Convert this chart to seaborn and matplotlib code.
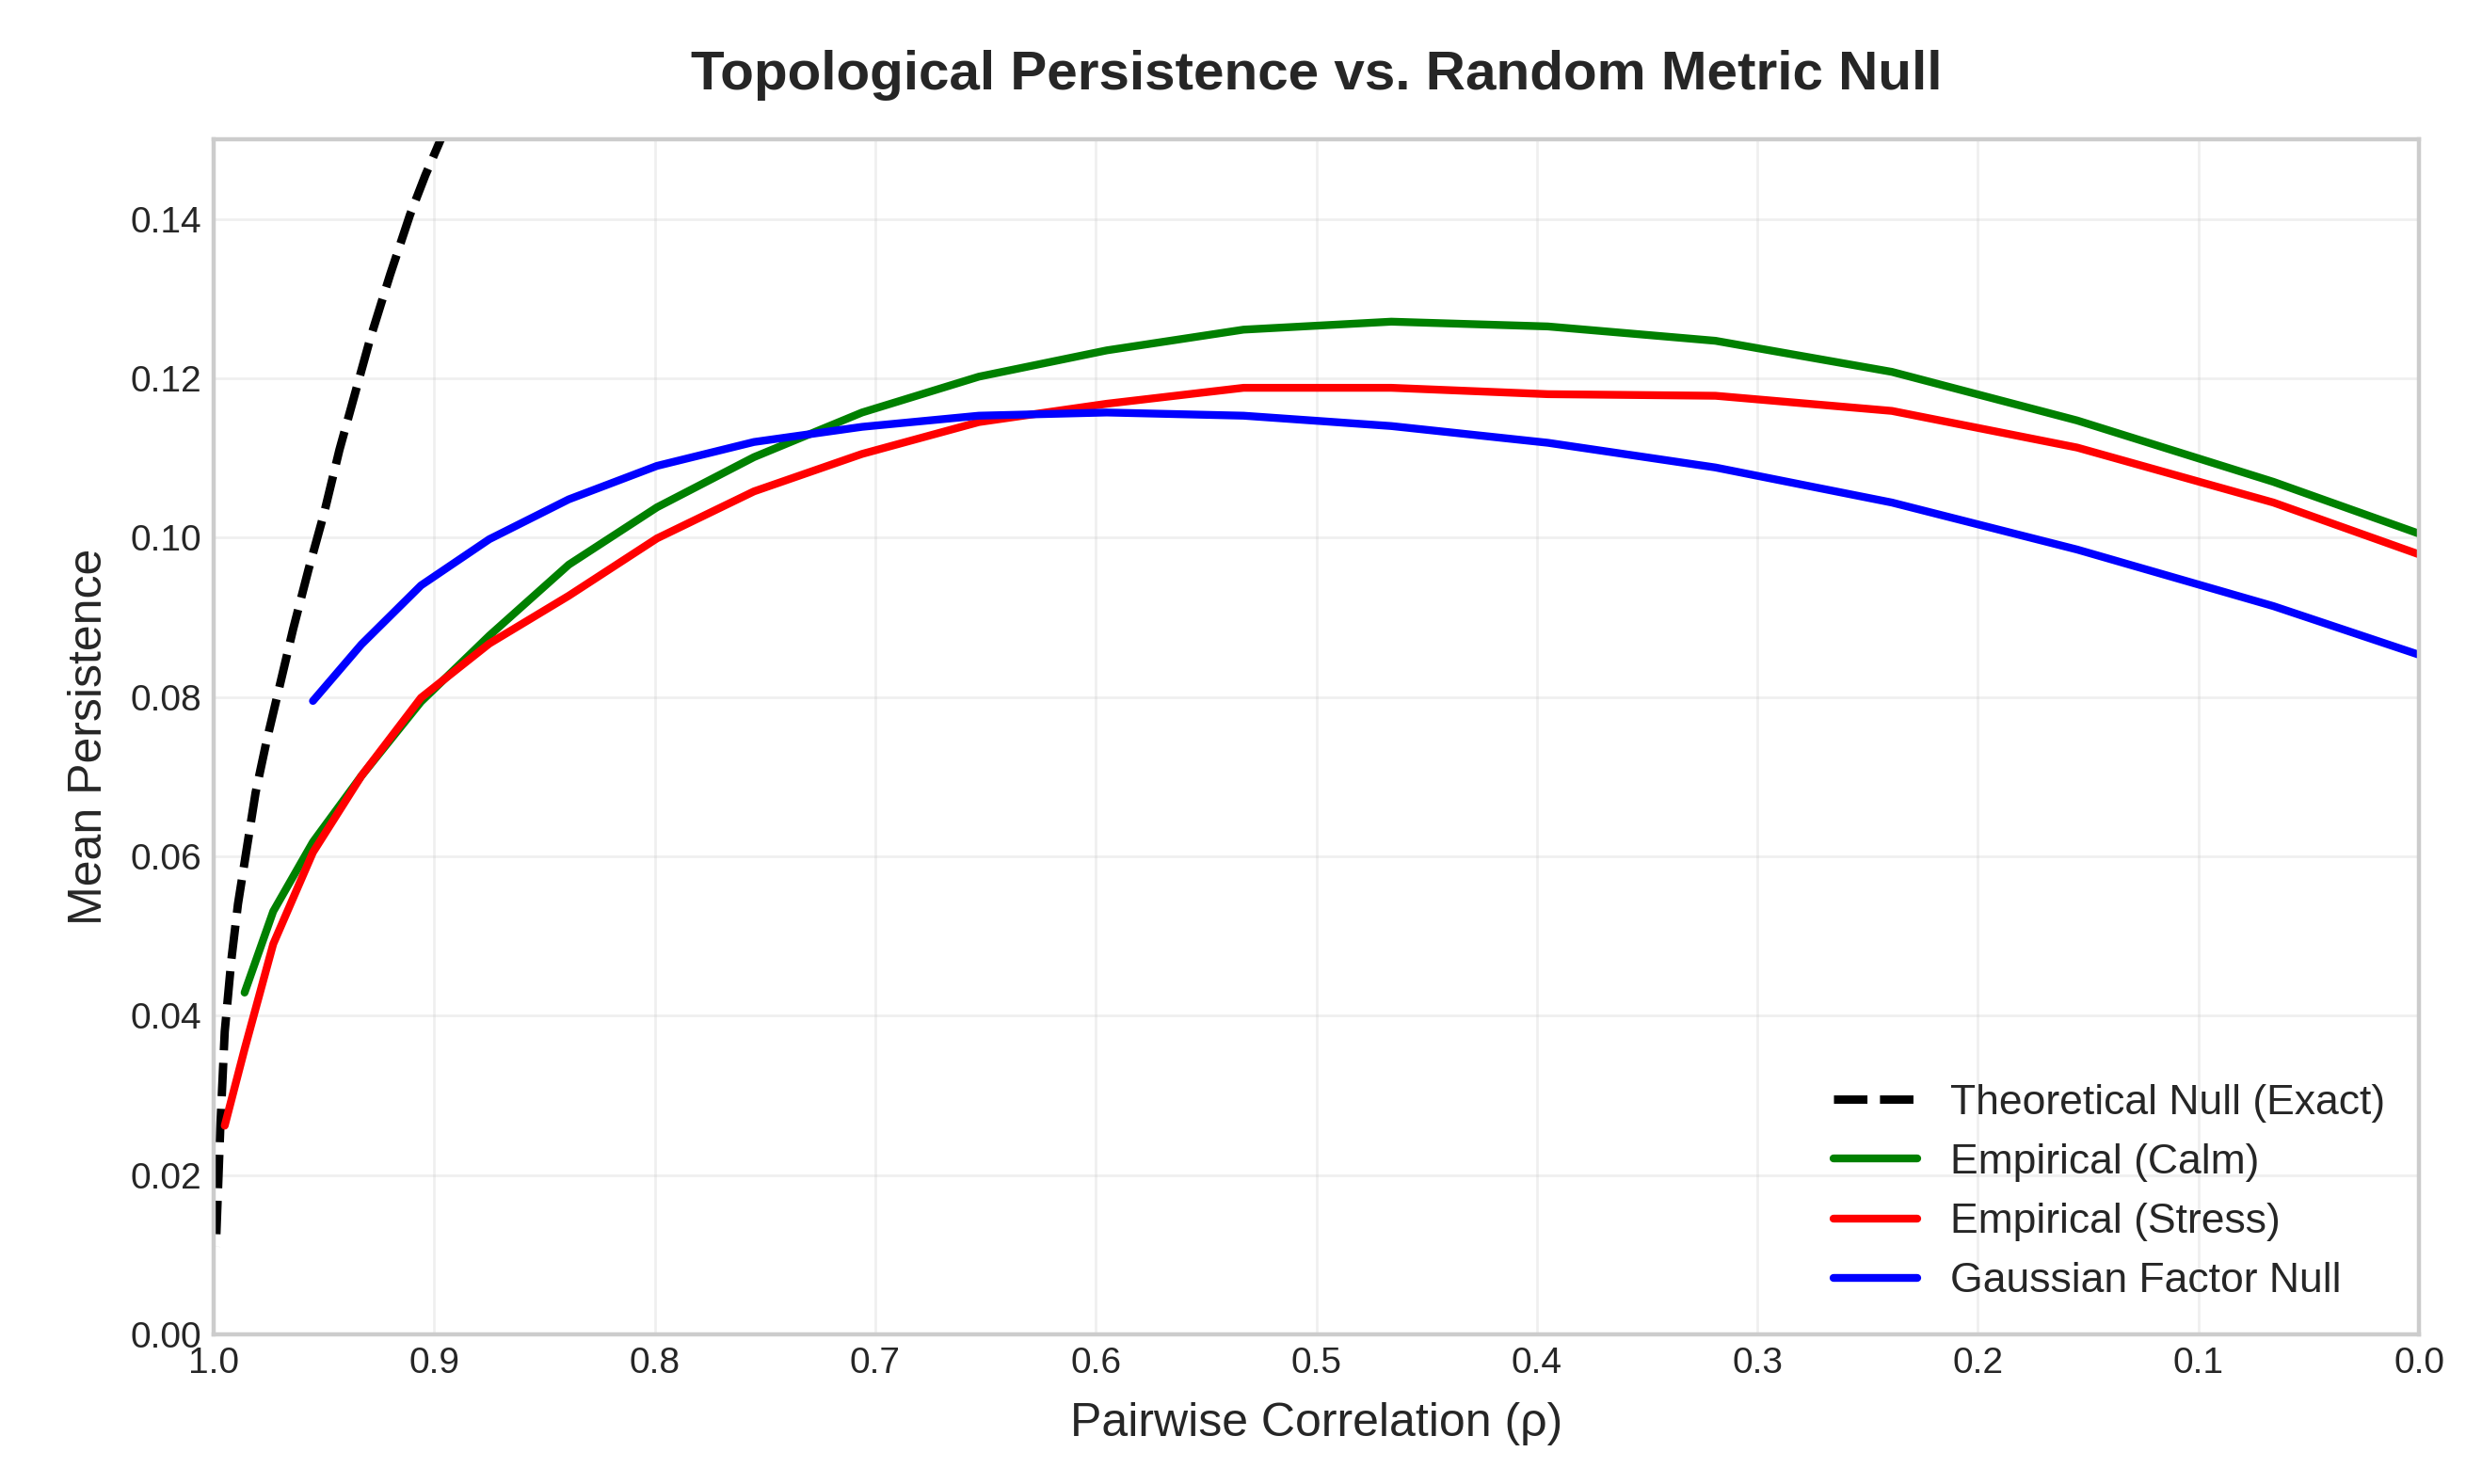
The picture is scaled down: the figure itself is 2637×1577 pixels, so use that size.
import numpy as np
import pandas as pd
import matplotlib
matplotlib.use("Agg")
import matplotlib.pyplot as plt
import seaborn as sns

# ==============================
# 数据
# ==============================
# 理论零模型（精确）
rho_theory = [0.9990, 0.9970, 0.9950, 0.9920, 0.9890, 0.9850, 0.9810, 0.9760,
              0.9700, 0.9640, 0.9570, 0.9500, 0.9430, 0.9360, 0.9290, 0.9200,
              0.9110, 0.9040, 0.8970, 0.8800, 0.8500]
pers_theory = [0.011, 0.026, 0.038, 0.047, 0.054, 0.061, 0.068, 0.0745,
               0.0815, 0.0885, 0.096, 0.103, 0.111, 0.118, 0.125, 0.133,
               0.1405, 0.1455, 0.150, 0.162, 0.180]

# 经验曲线的相关系数网格
rho_grid = [0.995, 0.986, 0.973, 0.955, 0.933, 0.906, 0.875, 0.839, 0.799,
            0.755, 0.706, 0.653, 0.595, 0.533, 0.466, 0.395, 0.319, 0.239,
            0.155, 0.066, 0.000]

# Empirical (Calm)：从 0.986 开始
pers_calm = [0.0429, 0.0531, 0.0618, 0.0701, 0.0794, 0.0877, 0.0966, 0.1038,
             0.1101, 0.1157, 0.1202, 0.1235, 0.1261, 0.1271, 0.1265, 0.1247,
             0.1208, 0.1147, 0.1070, 0.1005]

# Empirical (Stress)：从 0.995 开始
pers_stress = [0.0262, 0.0358, 0.0490, 0.0605, 0.0701, 0.0799, 0.0867, 0.0927,
               0.0999, 0.1058, 0.1105, 0.1145, 0.1168, 0.1188, 0.1188, 0.1180,
               0.1178, 0.1159, 0.1113, 0.1044, 0.0979]

# Gaussian Factor Null：从 0.955 开始
pers_gauss = [0.0795, 0.0866, 0.0940, 0.0998, 0.1048, 0.1090, 0.1120, 0.1139,
              0.1153, 0.1157, 0.1153, 0.1140, 0.1119, 0.1088, 0.1044, 0.0985,
              0.0914, 0.0853]

x_ticks = [1.0, 0.9, 0.8, 0.7, 0.6, 0.5, 0.4, 0.3, 0.2, 0.1, 0.0]
y_ticks = [0.00, 0.02, 0.04, 0.06, 0.08, 0.10, 0.12, 0.14]

# ==============================
# 样式
# ==============================
sns.set_theme(style="whitegrid")
plt.rcParams['font.family'] = ['Liberation Sans', 'DejaVu Sans']
plt.rcParams['axes.edgecolor'] = '#cccccc'
plt.rcParams['axes.linewidth'] = 1.6

fig = plt.figure(figsize=(2637 / 200, 1577 / 200), dpi=200)
ax = fig.add_axes([0.0861, 0.1008, 0.9746 - 0.0861, 0.9062 - 0.1008])

sns.lineplot(x=rho_theory, y=pers_theory, ax=ax, color='black', lw=3.2,
             linestyle=(0, (4, 1.5)), label='Theoretical Null (Exact)')
sns.lineplot(x=rho_grid[1:], y=pers_calm, ax=ax, color='green', lw=3,
             label='Empirical (Calm)')
sns.lineplot(x=rho_grid, y=pers_stress, ax=ax, color='red', lw=3,
             label='Empirical (Stress)')
sns.lineplot(x=rho_grid[3:], y=pers_gauss, ax=ax, color='blue', lw=3,
             label='Gaussian Factor Null')

ax.set_xlim(1.0, 0.0)
ax.set_ylim(0, 0.15)
ax.set_xticks(x_ticks)
ax.set_xticklabels([f"{t:.1f}" for t in x_ticks])
ax.set_yticks(y_ticks)
ax.set_yticklabels([f"{t:.2f}" for t in y_ticks])
ax.tick_params(labelsize=14, length=0, pad=4.5)
ax.grid(alpha=0.3)

ax.set_xlabel('Pairwise Correlation (ρ)', fontsize=18, labelpad=8.5)
ax.set_ylabel('Mean Persistence', fontsize=18, labelpad=7.5)
ax.set_title('Topological Persistence vs. Random Metric Null',
             fontsize=21, fontweight='bold', pad=19)

ax.legend(loc='lower right', fontsize=16, frameon=False, borderaxespad=0.4)

fig.savefig('out.png', dpi=200)
